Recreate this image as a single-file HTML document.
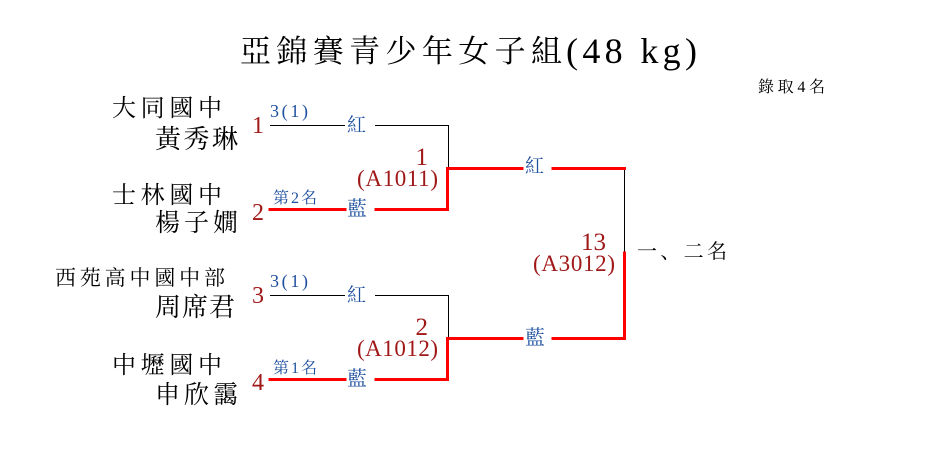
<!DOCTYPE html>
<html>
<head>
<meta charset="utf-8">
<style>
html,body{margin:0;padding:0;background:#fff;}
svg{display:block;}
.cj{font-family:"Liberation Serif","Noto Serif CJK SC","Noto Serif CJK TC",serif;}
.lt{font-family:"Liberation Serif",serif;}
.blk{fill:#000;}
.blu{fill:#1d4f9f;}
.red{fill:#a01818;}
</style>
</head>
<body>
<svg width="935" height="465" viewBox="0 0 935 465" xmlns="http://www.w3.org/2000/svg">
<rect width="935" height="465" fill="#fff"/>

<!-- Title -->
<text class="cj blk" x="240" y="62" font-size="31" textLength="322" lengthAdjust="spacing">亞錦賽青少年女子組</text>
<text class="lt blk" x="566" y="63" font-size="36" textLength="131" lengthAdjust="spacing">(48 kg)</text>
<text class="cj blk" x="758" y="92" font-size="16" textLength="67" lengthAdjust="spacing">錄取4名</text>

<!-- Lines black -->
<g stroke="#000" stroke-width="1" fill="none" shape-rendering="crispEdges">
  <path d="M270 125.5 H345 M375 125.5 H448.5 V168"/>
  <path d="M270 295.5 H345 M375 295.5 H448.5 V338"/>
  <path d="M624.5 168 V253"/>
</g>
<!-- Lines red -->
<g stroke="#ff0000" stroke-width="3" fill="none" shape-rendering="crispEdges" stroke-linejoin="miter" stroke-linecap="square">
  <path d="M270 209.5 H345"/>
  <path d="M376 209.5 H447.5 V168.5 H522"/>
  <path d="M553 168.5 H624.5"/>
  <path d="M624.5 253 V338.5 H553"/>
  <path d="M522 338.5 H447.5 V379.5 H376"/>
  <path d="M270 379.5 H345"/>
</g>

<!-- Left names -->
<text class="cj blk" x="112" y="116" font-size="24" textLength="110" lengthAdjust="spacing">大同國中</text>
<text class="cj blk" x="155" y="148" font-size="26" textLength="83" lengthAdjust="spacing">黃秀琳</text>
<text class="cj blk" x="112" y="203" font-size="24" textLength="110" lengthAdjust="spacing">士林國中</text>
<text class="cj blk" x="155" y="231" font-size="25" textLength="83" lengthAdjust="spacing">楊子嫺</text>
<text class="cj blk" x="55" y="285" font-size="21" textLength="170" lengthAdjust="spacing">西苑高中國中部</text>
<text class="cj blk" x="155" y="316" font-size="26" textLength="80" lengthAdjust="spacing">周席君</text>
<text class="cj blk" x="112" y="373" font-size="24" textLength="110" lengthAdjust="spacing">中壢國中</text>
<text class="cj blk" x="155" y="403" font-size="25" textLength="83" lengthAdjust="spacing">申欣靄</text>

<!-- Seeds -->
<text class="lt red" x="252" y="133" font-size="24">1</text>
<text class="lt red" x="252" y="220" font-size="24">2</text>
<text class="lt red" x="252" y="303" font-size="24">3</text>
<text class="lt red" x="252" y="390" font-size="24">4</text>

<!-- Blue labels -->
<text class="lt blu" x="270" y="117" font-size="18" textLength="38" lengthAdjust="spacing">3(1)</text>
<text class="cj blu" x="273" y="203" font-size="16" textLength="44" lengthAdjust="spacing">第2名</text>
<text class="lt blu" x="270" y="287" font-size="18" textLength="38" lengthAdjust="spacing">3(1)</text>
<text class="cj blu" x="273" y="373" font-size="16" textLength="44" lengthAdjust="spacing">第1名</text>

<text class="cj blu" x="347" y="131" font-size="19">紅</text>
<text class="cj blu" x="347" y="215" font-size="20">藍</text>
<text class="cj blu" x="347" y="301" font-size="19">紅</text>
<text class="cj blu" x="347" y="385" font-size="20">藍</text>
<text class="cj blu" x="525" y="172" font-size="19">紅</text>
<text class="cj blu" x="525" y="344" font-size="20">藍</text>

<!-- Match labels -->
<text class="lt red" x="428" y="165" font-size="25" text-anchor="end">1</text>
<text class="lt red" x="357" y="186" font-size="23" textLength="81" lengthAdjust="spacing">(A1011)</text>
<text class="lt red" x="428" y="335" font-size="25" text-anchor="end">2</text>
<text class="lt red" x="357" y="356" font-size="23" textLength="81" lengthAdjust="spacing">(A1012)</text>
<text class="lt red" x="606" y="250" font-size="25" text-anchor="end">13</text>
<text class="lt red" x="533" y="271" font-size="23" textLength="82" lengthAdjust="spacing">(A3012)</text>

<text class="cj blk" x="637" y="258" font-size="20" textLength="90" lengthAdjust="spacing">一、二名</text>
</svg>
</body>
</html>
